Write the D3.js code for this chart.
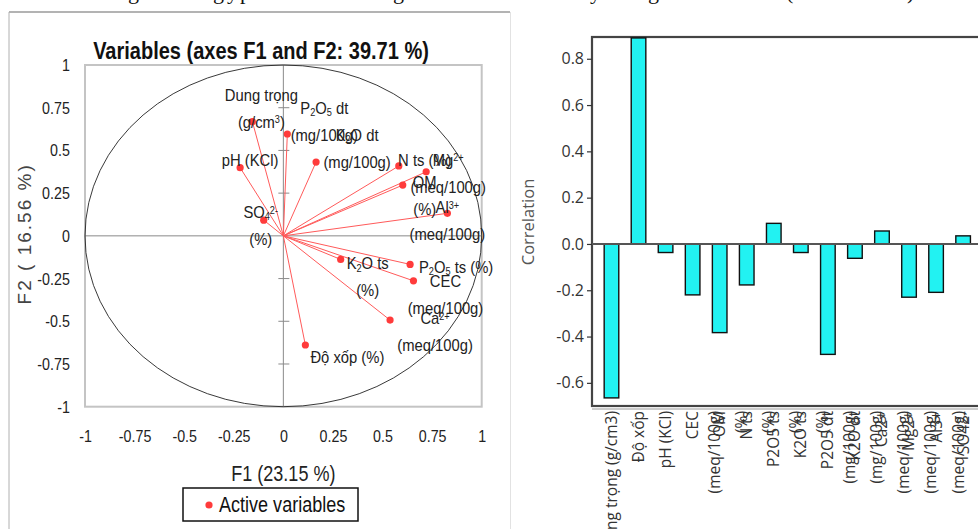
<!doctype html>
<html>
<head>
<meta charset="utf-8" />
<title>PCA variables + correlation bars</title>
<script src="https://cdn.jsdelivr.net/npm/d3@7"></script>
<style>
  html,body{margin:0;background:#fff}
  svg{display:block}
  .narrow{font-family:"Liberation Sans","Arial",sans-serif}
  .sans{font-family:"Open Sans","Noto Sans",sans-serif}
  .serif{font-family:"Liberation Serif","DejaVu Serif",serif}
</style>
</head>
<body>
<svg id="chart" width="978" height="529"></svg>
<script>
/* ---------- data: PCA correlation circle (F1 x F2) ---------- */
const pcaVars = ["Dung trọng","P2O5 dt","K2O dt","pH (KCl)","N ts","Mg2+","OM","Al3+",
                 "SO42-","K2O ts","P2O5 ts","CEC","Ca2+","Độ xốp"];
const pcaF1 = [-0.156, 0.02, 0.165, -0.218, 0.582, 0.72, 0.602, 0.827,
               -0.099, 0.289, 0.639, 0.656, 0.538, 0.111];
const pcaF2 = [0.668, 0.596, 0.432, 0.399, 0.409, 0.375, 0.297, 0.132,
               0.092, -0.138, -0.167, -0.263, -0.493, -0.639];
// label text per variable (_{..} subscript, ^{..} superscript)
const pcaLabels = [["Dung trọng","(g/cm^{3})"],["P_{2}O_{5} dt","(mg/100g)"],["K_{2}O dt","(mg/100g)"],
                   ["pH (KCl)"],["N ts (%)"],["Mg^{2+}","(meq/100g)"],["OM","(%)"],["Al^{3+}","(meq/100g)"],
                   ["SO_{4}^{2-}","(%)"],["K_{2}O ts","(%)"],["P_{2}O_{5} ts (%)"],["CEC","(meq/100g)"],
                   ["Ca^{2+}","(meq/100g)"],["Độ xốp (%)"]];
const pcaTicks = [-1,-0.75,-0.5,-0.25,0,0.25,0.5,0.75,1];

/* ---------- data: correlation bars ---------- */
const corrLabels = [["Dung trọng (g/cm3)"],["Độ xốp"],["pH (KCl)"],["CEC","(meq/100g)"],["OM","(%)"],
                    ["N ts","(%)"],["P2O5 ts","(%)"],["K2O ts","(%)"],["P2O5 dt","(mg/100g)"],
                    ["K2O dt","(mg/100g)"],["Ca2+","(meq/100g)"],["Mg2+","(meq/100g)"],
                    ["Al3+","(meq/100g)"],["SO42-","(%)"]];
const corrVals = [-0.665, 0.89, -0.037, -0.22, -0.383, -0.177, 0.089, -0.037,
                  -0.477, -0.062, 0.056, -0.23, -0.209, 0.035];
const corrTicks = [-0.6,-0.4,-0.2,0,0.2,0.4,0.6,0.8];

/* label placement (px offsets of first line centre from the point) */
const labelOffset = [[9,-27],[37,-26],[41,-27],[10,-8],[26,-6],[22,-12],[22,-3],[0,-6],
                     [-3,-8],[27,4],[46,3],[32,0],[45,-2],[42,12]];

const svg = d3.select("#chart");

// descenders of the document line above, cut off by the crop
[["g",128],["g",213],["y",227],["p",240],["g",393],["y",590],["g",648],["(",786],[")",907]]
  .forEach(([c,x]) => svg.append("text").attr("class","serif")
     .attr("x",x).attr("y",-1).attr("font-size",22).attr("fill","#111").text(c));

// horizontally condensed text (stands in for Arial Narrow)
function narrow(g, x, y, sx){
  return g.append("text").attr("class","narrow")
    .attr("transform",`translate(${x},${y}) scale(${sx},1)`);
}

/* ================= left panel ================= */
const L = svg.append("g");
L.append("line").attr("x1",9).attr("x2",510).attr("y1",12).attr("y2",12).attr("stroke","#9a9a9a").attr("stroke-width",1.5);
L.append("line").attr("x1",9).attr("x2",9).attr("y1",12).attr("y2",529).attr("stroke","#b0b0b0");
L.append("line").attr("x1",510.5).attr("x2",510.5).attr("y1",12).attr("y2",529).attr("stroke","#e2e2e2");

const x = d3.scaleLinear().domain([-1,1]).range([85,481.7]);
const y = d3.scaleLinear().domain([-1,1]).range([406.7,65]);

L.append("rect").attr("x",x(-1)).attr("y",y(1)).attr("width",x(1)-x(-1)).attr("height",y(-1)-y(1))
  .attr("fill","none").attr("stroke","#c4c4c4").attr("stroke-width",2);

// zero lines + small ticks on the vertical one
L.append("line").attr("x1",x(-1)).attr("x2",x(1)).attr("y1",y(0)).attr("y2",y(0)).attr("stroke","#8a8a8a");
L.append("line").attr("x1",x(0)).attr("x2",x(0)).attr("y1",y(1)).attr("y2",y(-1)).attr("stroke","#8a8a8a");
L.selectAll(".vt").data(pcaTicks.filter(d => d && Math.abs(d) < 1)).join("line")
  .attr("x1",x(0)-5).attr("x2",x(0)+6).attr("y1",d=>y(d)).attr("y2",d=>y(d)).attr("stroke","#8a8a8a");

// unit circle
L.append("ellipse").attr("cx",x(0)).attr("cy",y(0)).attr("rx",x(1)-x(0)).attr("ry",y(-1)-y(0))
  .attr("fill","none").attr("stroke","#222").attr("stroke-width",0.9);

// axes
const fmt = d => String(d);
const ax = L.append("g").attr("transform",`translate(0,${y(-1)})`)
  .call(d3.axisBottom(x).tickValues(pcaTicks).tickFormat(fmt).tickSize(0).tickPadding(23));
const ay = L.append("g").attr("transform",`translate(${x(-1)},0)`)
  .call(d3.axisLeft(y).tickValues(pcaTicks).tickFormat(fmt).tickSize(0).tickPadding(18));
[ax,ay].forEach(a => {
  a.select(".domain").remove();
  a.selectAll("text").attr("class","narrow").attr("font-size",17).attr("fill","#222")
    .attr("transform","scale(0.84,1)");
});

// vectors + points
const pts = pcaVars.map((n,i) => ({n, f1:pcaF1[i], f2:pcaF2[i], lab:pcaLabels[i], off:labelOffset[i]}));
L.selectAll(".vec").data(pts).join("line")
  .attr("x1",x(0)).attr("y1",y(0)).attr("x2",d=>x(d.f1)).attr("y2",d=>y(d.f2))
  .attr("stroke","#ff5a5a").attr("stroke-width",1);
L.selectAll(".pt").data(pts).join("circle")
  .attr("cx",d=>x(d.f1)).attr("cy",d=>y(d.f2)).attr("r",3.6).attr("fill","#ff3b3b");

function richText(sel, s, size){
  s.split(/([_^]\{[^}]*\})/).filter(Boolean).forEach(part => {
    const t = sel.append("tspan");
    if (part[0] === "_" || part[0] === "^"){
      t.attr("font-size",size*0.62).attr("baseline-shift", part[0]==="_" ? "-22%" : "42%")
       .text(part.slice(2,-1));
    } else t.text(part);
  });
}
pts.forEach(d => {
  d.lab.forEach((line,k) => {
    const t = narrow(L, x(d.f1)+d.off[0], y(d.f2)+d.off[1]+k*27, 0.87)
      .attr("font-size",17).attr("fill","#222").attr("text-anchor","middle").attr("dy","0.35em");
    richText(t, line, 17);
  });
});

// titles
narrow(L, 261, 59, 0.87).attr("text-anchor","middle")
  .attr("font-size",23).attr("font-weight","bold").attr("fill","#111")
  .text("Variables (axes F1 and F2: 39.71 %)");
narrow(L, x(0), 481, 0.82).attr("text-anchor","middle")
  .attr("font-size",22).attr("fill","#222").text("F1 (23.15 %)");
L.append("text").attr("transform",`translate(31,${y(0)-2}) rotate(-90)`).attr("text-anchor","middle")
  .attr("font-family","Liberation Sans, sans-serif").attr("font-size",19).attr("letter-spacing",2)
  .attr("fill","#444").text("F2 ( 16.56 %)");

// legend
L.append("rect").attr("x",183).attr("y",488).attr("width",175).attr("height",33)
  .attr("fill","#fff").attr("stroke","#111").attr("stroke-width",1.5);
L.append("circle").attr("cx",209).attr("cy",505).attr("r",3.6).attr("fill","#ff3b3b");
narrow(L, 219, 512, 0.82).attr("font-size",22).attr("fill","#111").text("Active variables");

/* ================= right panel ================= */
const R = svg.append("g");
const yb = d3.scaleLinear().domain([-0.70,0.894]).range([406,37]);
const xb = d3.scaleBand().domain(d3.range(corrVals.length)).range([592,982.6])
  .paddingInner(0.46).paddingOuter(0.45);

R.append("rect").attr("x",592).attr("y",yb(0.894)).attr("width",400).attr("height",yb(-0.70)-yb(0.894))
  .attr("fill","#fff").attr("stroke","#444").attr("stroke-width",2.2);
R.append("line").attr("x1",592).attr("x2",978).attr("y1",yb(-0.70)+3).attr("y2",yb(-0.70)+3)
  .attr("stroke","#999").attr("stroke-width",1);

R.selectAll(".bar").data(corrVals).join("rect")
  .attr("x",(d,i)=>xb(i)).attr("width",xb.bandwidth())
  .attr("y",d=>yb(Math.max(0,d))).attr("height",d=>Math.abs(yb(d)-yb(0)))
  .attr("fill","#22f2f2").attr("stroke","#111").attr("stroke-width",1.4);

R.append("line").attr("x1",592).attr("x2",978).attr("y1",yb(0)).attr("y2",yb(0))
  .attr("stroke","#555").attr("stroke-width",2);

const ayb = R.append("g").attr("transform","translate(592,0)")
  .call(d3.axisLeft(yb).tickValues(corrTicks).tickFormat(d3.format(".1f")).tickSize(5).tickPadding(3));
ayb.select(".domain").remove();
ayb.selectAll("line").attr("stroke","#333").attr("stroke-width",1.2);
ayb.selectAll("text").attr("class","sans").attr("font-size",16).attr("fill","#333")
  .text(d => d3.format(".1f")(d).replace("−","-"));

R.append("text").attr("class","sans").attr("transform","translate(534,222) rotate(-90)")
  .attr("text-anchor","middle").attr("font-size",16.5).attr("fill","#555").text("Correlation");

corrLabels.forEach((lines,i) => {
  const cx = xb(i) + xb.bandwidth()/2;
  lines.forEach((s,k) => {
    R.append("text").attr("class","sans").attr("font-size",15.5).attr("fill","#333")
      .attr("text-anchor","end").attr("dy","0.35em")
      .attr("transform",`translate(${cx + k*22},411) rotate(-90)`).text(s);
  });
});
</script>
</body>
</html>
